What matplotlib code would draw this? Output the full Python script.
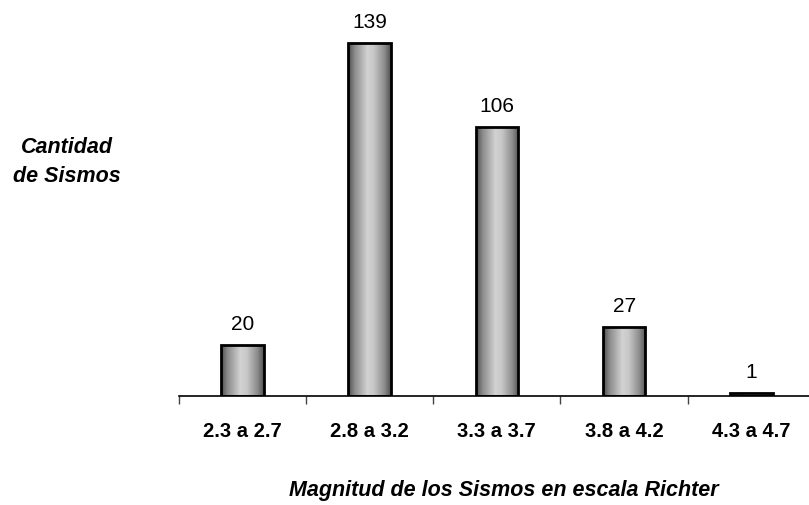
import matplotlib
matplotlib.use("Agg")
import matplotlib.pyplot as plt
import numpy as np
from matplotlib.colors import LinearSegmentedColormap

categories = ["2.3 a 2.7", "2.8 a 3.2", "3.3 a 3.7", "3.8 a 4.2", "4.3 a 4.7"]
values = [20, 139, 106, 27, 1]

plt.rcParams['font.family'] = ['Liberation Sans', 'DejaVu Sans']

W, H = 809, 506
fig = plt.figure(figsize=(W/100, H/100), dpi=100)
left_px, right_px = 178.7, 815.0
base_px = 397.0
unit = 2.54
ymax = 150
ax = fig.add_axes([left_px/W, 1 - base_px/H, (right_px-left_px)/W, ymax*unit/H])

x = np.arange(1, len(categories)+1)
bars = ax.bar(x, values, width=0.335, facecolor='none', edgecolor='black', linewidth=2, zorder=3)

cmap = LinearSegmentedColormap.from_list("cyl", [
    (0.0, "#4a4a4a"), (0.15, "#8a8a8a"), (0.45, "#d2d2d2"), (0.6, "#c8c8c8"), (0.85, "#8c8c8c"), (1.0, "#505050")])
grad = np.linspace(0, 1, 256).reshape(1, -1)
for p in bars.patches:
    x0, y0 = p.get_x(), p.get_y()
    w, h = p.get_width(), p.get_height()
    im = ax.imshow(grad, cmap=cmap, aspect='auto', extent=(x0, x0+w, y0, y0+h), zorder=2)
    im.set_clip_path(p)

for xi, v in zip(x, values):
    ax.annotate(str(v), (xi, v), xytext=(0, 11.5), textcoords='offset points',
                ha='center', va='baseline', fontsize=15)

ax.set_xlim(0.5, len(categories)+0.5)
ax.set_ylim(0, ymax)
for s in ['top', 'right', 'left']:
    ax.spines[s].set_visible(False)
ax.spines['bottom'].set_linewidth(1.2)
ax.set_yticks([])
ax.set_xticks(x)
ax.set_xticklabels(categories, fontsize=14.5, fontweight='bold')
ax.tick_params(axis='x', which='major', length=0, pad=18)
ax.set_xticks(np.arange(0.5, len(categories)+1, 1), minor=True)
ax.tick_params(axis='x', which='minor', length=6, width=1, direction='out', color='#444444')

fig.text(67/W, 1-162/H, "Cantidad\nde Sismos", ha='center', va='center', fontsize=15.5,
         fontweight='bold', fontstyle='italic', linespacing=1.55)
fig.text(504/W, 1-491/H, "Magnitud de los Sismos en escala Richter", ha='center', va='center',
         fontsize=15.5, fontweight='bold', fontstyle='italic')

fig.savefig("out.png", dpi=100)
